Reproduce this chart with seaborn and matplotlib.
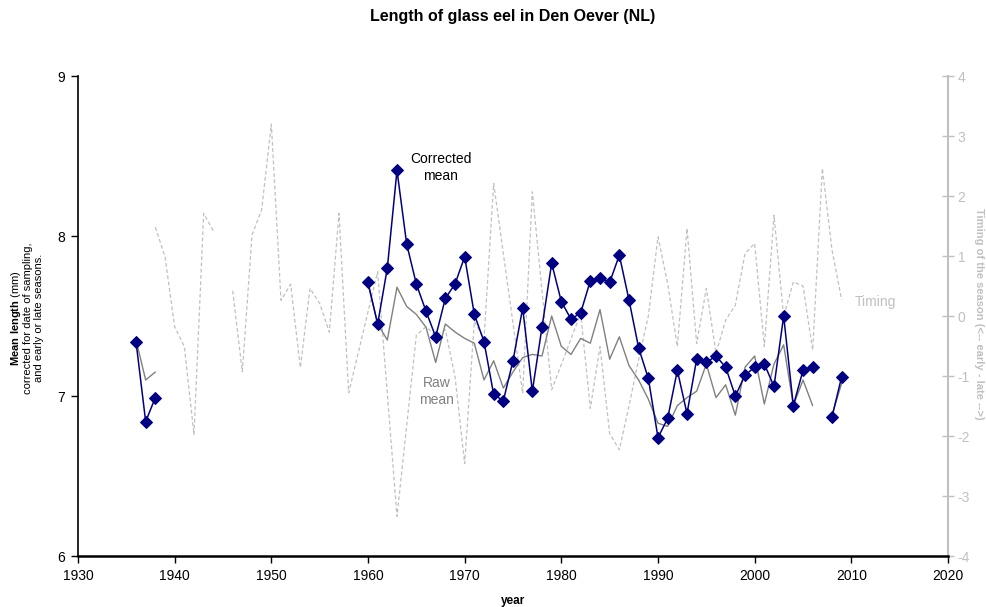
import numpy as np
import pandas as pd
import matplotlib
matplotlib.use("Agg")
import matplotlib.pyplot as plt
import seaborn as sns

nan = np.nan

# ---------------- data ----------------
years = list(range(1936, 2010))

corrected_mean = [
    7.34, 6.84, 6.99,                                   # 1936-1938
    nan, nan, nan, nan, nan, nan, nan, nan, nan, nan,   # 1939-1948
    nan, nan, nan, nan, nan, nan, nan, nan, nan, nan,   # 1949-1958
    nan,                                                # 1959
    7.71, 7.45, 7.80, 8.41, 7.95, 7.70, 7.53, 7.37, 7.61, 7.70,   # 1960-1969
    7.87, 7.51, 7.34, 7.01, 6.97, 7.22, 7.55, 7.03, 7.43, 7.83,   # 1970-1979
    7.59, 7.48, 7.52, 7.72, 7.74, 7.71, 7.88, 7.60, 7.30, 7.11,   # 1980-1989
    6.74, 6.86, 7.16, 6.89, 7.23, 7.21, 7.25, 7.18, 7.00, 7.13,   # 1990-1999
    7.18, 7.20, 7.06, 7.50, 6.94, 7.16, 7.18, nan, 6.87, 7.12,    # 2000-2009
]

raw_mean = [
    7.35, 7.10, 7.15,
    nan, nan, nan, nan, nan, nan, nan, nan, nan, nan,
    nan, nan, nan, nan, nan, nan, nan, nan, nan, nan,
    nan,
    7.70, 7.45, 7.35, 7.68, 7.56, 7.51, 7.43, 7.21, 7.45, 7.40,
    7.36, 7.33, 7.10, 7.22, 7.05, 7.15, 7.24, 7.26, 7.25, 7.50,
    7.31, 7.26, 7.36, 7.33, 7.54, 7.23, 7.37, 7.19, 7.10, 6.98,
    6.83, 6.81, 6.94, 6.99, 7.03, 7.20, 6.99, 7.07, 6.88, 7.18,
    7.25, 6.95, 7.20, 7.32, 6.94, 7.10, 6.94, nan, 6.88, 7.08,
]

timing = [
    nan, nan, 1.48,                                                       # 1936-1938
    0.99, -0.18, -0.51, -1.98, 1.71, 1.42, nan, 0.42, -0.93, 1.35,        # 1939-1948
    1.77, 3.20, 0.26, 0.53, -0.86, 0.46, 0.21, -0.27, 1.71, -1.28,        # 1949-1958
    -0.61,                                                                # 1959
    0.07, 0.74, -1.30, -3.34, -1.83, -0.32, -0.18, -0.33, -0.23, -1.01,   # 1960-1969
    -2.46, -0.09, -0.38, 2.21, 1.04, -0.12, -1.29, 2.07, 0.42, -1.23,     # 1970-1979
    -0.81, -0.38, 0.04, -1.54, -0.51, -1.96, -2.23, -1.50, -0.72, 0.00,   # 1980-1989
    1.32, 0.54, -0.51, 1.46, -0.46, 0.46, -0.62, -0.07, 0.18, 1.04,       # 1990-1999
    1.21, -0.51, 1.68, -0.01, 0.57, 0.50, -0.57, 2.46, 1.10, 0.27,        # 2000-2009
]

x_ticks = list(range(1930, 2021, 10))
left_ticks = [6, 7, 8, 9]
right_ticks = list(range(-4, 5))

df = pd.DataFrame({"year": years, "corrected": corrected_mean,
                   "raw": raw_mean, "timing": timing})


def segments(frame, col):
    """Split a series into contiguous non-missing runs."""
    valid = frame[col].notna()
    seg_id = (valid != valid.shift()).cumsum()
    return [g for _, g in frame[valid].groupby(seg_id[valid])]


# ---------------- style ----------------
sns.set_style("white")
plt.rcParams["font.family"] = ["Liberation Sans", "DejaVu Sans"]
plt.rcParams["mathtext.fontset"] = "custom"
plt.rcParams["mathtext.rm"] = "Liberation Sans"
plt.rcParams["mathtext.bf"] = "Liberation Sans:bold"
plt.rcParams["text.color"] = "black"
plt.rcParams["axes.labelcolor"] = "black"
plt.rcParams["xtick.color"] = "black"
plt.rcParams["ytick.color"] = "black"

fig = plt.figure(figsize=(9.86, 6.07), dpi=100)
ax = fig.add_axes([78 / 986, 1 - 556 / 607, 870 / 986, 480 / 607])
ax2 = ax.twinx()

light = "#c0c0c0"
navy = "#000080"
grey = "#808080"

# Timing (right axis)
for seg in segments(df, "timing"):
    sns.lineplot(data=seg, x="year", y="timing", ax=ax2, color=light,
                 linewidth=0.9, linestyle=(0, (3, 2)), legend=False)

# Raw mean
for seg in segments(df, "raw"):
    sns.lineplot(data=seg, x="year", y="raw", ax=ax, color=grey,
                 linewidth=1.0, legend=False)

# Corrected mean
for seg in segments(df, "corrected"):
    sns.lineplot(data=seg, x="year", y="corrected", ax=ax, color=navy,
                 linewidth=1.1, marker="D", markersize=6,
                 markeredgecolor=navy, markerfacecolor=navy, legend=False)

# main axis above the twin
ax.set_zorder(ax2.get_zorder() + 1)
ax.patch.set_visible(False)

# ---------------- axes ----------------
ax.set_xlim(1930, 2020)
ax.set_ylim(6, 9)
ax.set_xticks(x_ticks)
ax.set_yticks(left_ticks)
ax.set_xticklabels([str(t) for t in x_ticks], fontsize=10, color="black")
ax.set_yticklabels([str(t) for t in left_ticks], fontsize=10, color="black")
ax.tick_params(axis="both", direction="out", length=5, width=1, color="black",
               left=True, bottom=True, pad=4)
ax.set_xlabel("year", fontsize=8.5, fontweight="bold", labelpad=9)
ax.set_ylabel("")

ax2.set_ylim(-4, 4)
ax2.set_yticks(right_ticks)
ax2.set_yticklabels([str(t) for t in right_ticks], fontsize=10, color=light)
ax2.tick_params(axis="y", direction="inout", length=8, width=1, color=light,
                right=True, pad=3)
ax2.set_ylabel("")

for a in (ax, ax2):
    for s in a.spines.values():
        s.set_visible(False)
ax.spines["left"].set_visible(True)
ax.spines["bottom"].set_visible(True)
ax.spines["left"].set_color("black")
ax.spines["bottom"].set_color("black")
ax.spines["left"].set_linewidth(1.2)
ax.spines["bottom"].set_linewidth(1.8)
ax2.spines["right"].set_visible(True)
ax2.spines["right"].set_color(light)
ax2.spines["right"].set_linewidth(1.5)

# ---------------- texts ----------------
fig.text((78 + 948) / 2 / 986, 1 - 16 / 607, "Length of glass eel in Den Oever (NL)",
         ha="center", va="center", fontsize=11.5, fontweight="bold")

fig.text(16 / 986, 1 - 318 / 607, r"$\mathbf{Mean\ length}$ (mm)",
         rotation=90, ha="center", va="center", fontsize=8)
fig.text(28 / 986, 1 - 318 / 607, "corrected for date of sampling,",
         rotation=90, ha="center", va="center", fontsize=8)
fig.text(39 / 986, 1 - 318 / 607, "and early or late seasons.",
         rotation=90, ha="center", va="center", fontsize=8)

fig.text(979 / 986, 1 - 314 / 607, "Timing of the season (<-- early - late -->)",
         rotation=-90, ha="center", va="center", fontsize=8,
         fontweight="bold", color=light)

ax.text(1967.5, 8.43, "Corrected\nmean", ha="center", va="center",
        fontsize=10, color="black", linespacing=1.3)
ax.text(1967.1, 7.03, "Raw\nmean", ha="center", va="center",
        fontsize=10, color=grey, linespacing=1.3)
ax2.text(2012.5, 0.24, "Timing", ha="center", va="center",
         fontsize=10, color=light)

fig.savefig("out.png", dpi=100)
